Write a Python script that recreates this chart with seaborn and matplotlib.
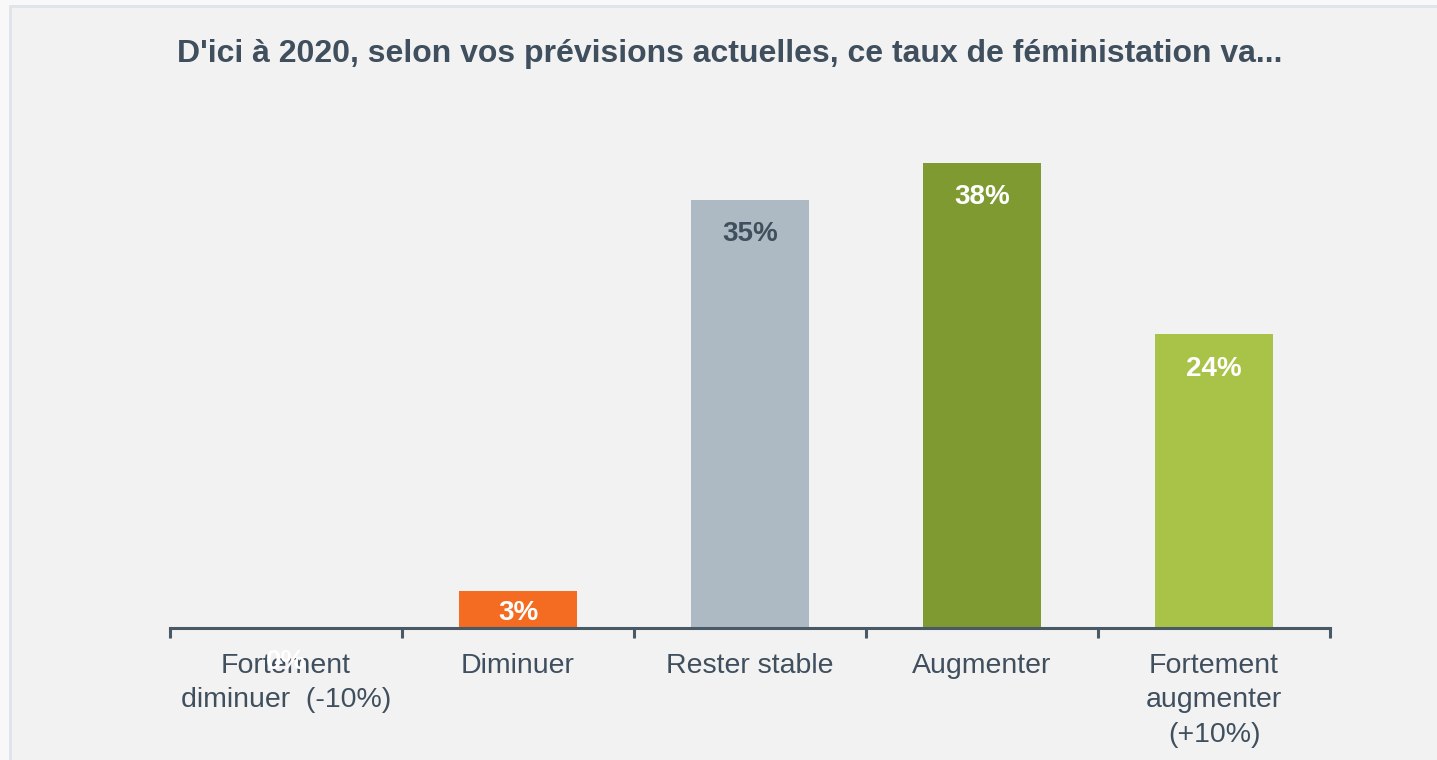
import numpy as np
import seaborn as sns
import matplotlib.pyplot as plt
from matplotlib.patches import Rectangle

categories = ["Fortement\ndiminuer  (-10%)", "Diminuer", "Rester stable",
              "Augmenter", "Fortement\naugmenter\n(+10%)"]
values = [0, 3, 35, 38, 24]
labels = ["0%", "3%", "35%", "38%", "24%"]
bar_colors = ["#f2f2f2", "#f36c21", "#adb9c3", "#7f9a31", "#a9c348"]
label_colors = ["white", "white", "#3f4f5d", "white", "white"]

title = "D'ici à 2020, selon vos prévisions actuelles, ce taux de féministation va..."
text_col = "#3f4f5d"

sns.set_style("white")
plt.rcParams["font.family"] = ["Liberation Sans", "DejaVu Sans"]

fig = plt.figure(figsize=(14.37, 7.6), dpi=100, facecolor="#f8f8f8")
fig.patches.append(Rectangle((10 / 1437, -0.01), 1.0, 1 - 6 / 760 + 0.01,
                             transform=fig.transFigure, facecolor="#f2f2f2",
                             edgecolor="#dde4ea", lw=2, zorder=-10))

px = 12.24  # pixels per percent
ymax = 43
ax = fig.add_axes([170 / 1437, 132 / 760, 1160 / 1437, ymax * px / 760])
ax.set_facecolor("none")

sns.barplot(x=categories, y=values, hue=categories, palette=bar_colors,
            legend=False, width=0.51, ax=ax, saturation=1, linewidth=0,
            edgecolor="none")

ax.set_xlim(-0.5, 4.5)
ax.set_ylim(0, ymax)
for s in ["top", "right", "left"]:
    ax.spines[s].set_visible(False)
ax.spines["bottom"].set_color("#4a5966")
ax.spines["bottom"].set_linewidth(2.2)
ax.set_yticks([])
ax.set_xlabel("")
ax.set_ylabel("")

ax.set_xticks(np.arange(-0.5, 5), minor=True)
ax.tick_params(axis="x", which="minor", bottom=True, length=7, width=2.2,
               color="#4a5966", direction="out")
ax.tick_params(axis="x", which="major", length=0, pad=18, labelsize=20.5,
               labelcolor=text_col)
for t in ax.get_xticklabels():
    t.set_linespacing(1.42)
    t.set_verticalalignment("top")

for i, (v, lab, c) in enumerate(zip(values, labels, label_colors)):
    y = v / 2 - 0.25 if 0 < v < 5 else v - 2.8
    ax.text(i, y, lab, ha="center", va="center", fontsize=20,
            fontweight="bold", color=c, zorder=1, clip_on=False)

fig.text(730 / 1437, 1 - 54 / 760, title, ha="center", va="center",
         fontsize=23, fontweight="bold", color=text_col)

fig.savefig("out.png", dpi=100, facecolor=fig.get_facecolor())
